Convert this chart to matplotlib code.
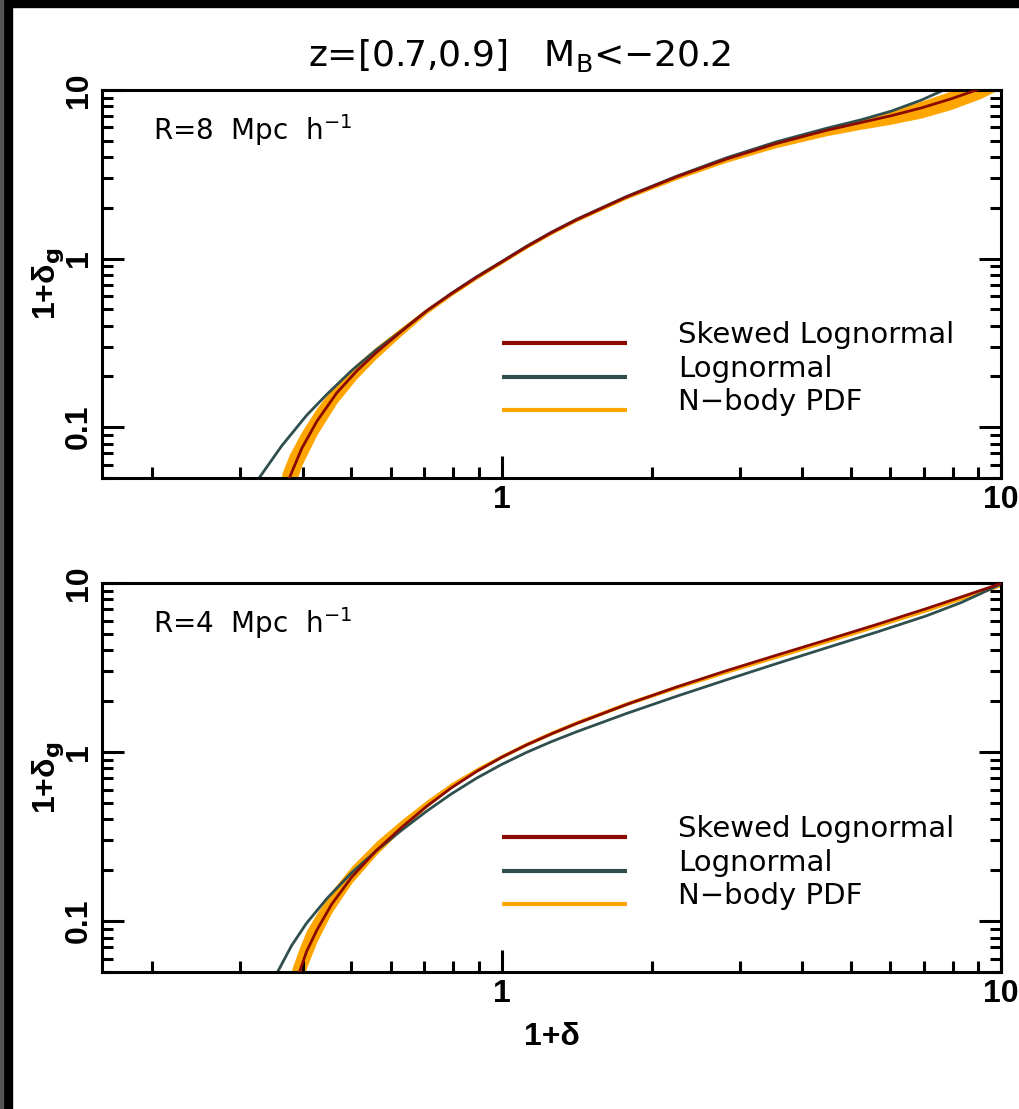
import matplotlib.pyplot as plt
from matplotlib.patches import Rectangle
from matplotlib.ticker import LogLocator, NullFormatter

# values: x = 1+delta, y = 1+delta_g
# R = 8 Mpc/h
sk8_x = [0.376, 0.398, 0.427, 0.468, 0.513, 0.562, 0.631, 0.708, 0.794, 0.891, 1.0, 1.122,
         1.259, 1.413, 1.778, 2.239, 2.818, 3.548, 4.467, 5.248, 6.026, 6.918, 7.943, 9.12]
sk8_y = [0.05, 0.0748, 0.1086, 0.160, 0.2158, 0.278, 0.3715, 0.4898, 0.6194, 0.7745, 0.9528, 1.175,
         1.426, 1.698, 2.317, 3.048, 3.890, 4.808, 5.754, 6.412, 7.031, 7.816, 8.851, 10.21]
ln8_x = [0.327, 0.363, 0.407, 0.447, 0.501, 0.562, 0.631, 0.708, 0.794, 0.891, 1.0, 1.122,
         1.259, 1.413, 1.778, 2.239, 2.818, 3.548, 4.467, 5.248, 6.026, 6.918, 7.762]
ln8_y = [0.05, 0.0776, 0.1175, 0.1567, 0.2168, 0.2884, 0.3733, 0.4898, 0.6237, 0.7798, 0.9594, 1.183,
         1.435, 1.710, 2.333, 3.076, 3.954, 4.920, 5.916, 6.653, 7.482, 8.690, 10.12]
nb8_x = [0.363, 0.376, 0.398, 0.427, 0.468, 0.513, 0.562, 0.631, 0.708, 0.794, 0.891, 1.0, 1.122,
         1.259, 1.413, 1.778, 2.239, 2.818, 3.548, 4.467, 5.248, 6.026, 6.918, 7.943, 9.12, 10.0]
nb8_lo = [0.0254, 0.0362, 0.0594, 0.0904, 0.1393, 0.1945, 0.2564, 0.3508, 0.4710, 0.6012, 0.7534,
          0.9290, 1.146, 1.390, 1.656, 2.254, 2.938, 3.724, 4.550, 5.346, 5.848, 6.266, 6.808,
          7.656, 8.913, 10.23]
nb8_hi = [0.053, 0.069, 0.0942, 0.1306, 0.1837, 0.2393, 0.3013, 0.3936, 0.5093, 0.6383, 0.7962,
          0.9772, 1.205, 1.462, 1.742, 2.382, 3.105, 3.954, 4.898, 5.916, 6.714, 7.534, 8.570,
          9.863, 11.75, 12.59]

# R = 4 Mpc/h
sk4_x = [0.394, 0.407, 0.427, 0.457, 0.501, 0.562, 0.631, 0.708, 0.794, 0.891, 1.0, 1.122,
         1.259, 1.413, 1.778, 2.239, 2.818, 3.548, 4.467, 5.623, 7.079, 8.318, 10.0]
sk4_y = [0.05, 0.0661, 0.0888, 0.1259, 0.182, 0.2624, 0.3589, 0.4775, 0.6152, 0.7674, 0.9311, 1.102,
         1.282, 1.476, 1.910, 2.424, 3.027, 3.737, 4.597, 5.669, 7.047, 8.260, 9.931]
ln4_x = [0.356, 0.380, 0.407, 0.447, 0.501, 0.562, 0.631, 0.708, 0.794, 0.891, 1.0, 1.122,
         1.259, 1.413, 1.778, 2.239, 2.818, 3.548, 4.467, 5.623, 7.079, 8.318, 9.12, 10.0]
ln4_y = [0.05, 0.0718, 0.0973, 0.1361, 0.1934, 0.2618, 0.3451, 0.4471, 0.5662, 0.7006, 0.8443, 0.9954,
         1.153, 1.318, 1.690, 2.136, 2.673, 3.331, 4.130, 5.111, 6.383, 7.656, 8.670, 9.863]
nb4_x = [0.380, 0.394, 0.407, 0.427, 0.457, 0.501, 0.562, 0.631, 0.708, 0.794, 0.891, 1.0, 1.122,
         1.259, 1.413, 1.778, 2.239, 2.818, 3.548, 4.467, 5.623, 7.079, 8.318, 10.0]
nb4_lo = [0.026, 0.0384, 0.0531, 0.0756, 0.1122, 0.1679, 0.2477, 0.3467, 0.4699, 0.6138, 0.7621,
          0.9162, 1.084, 1.262, 1.452, 1.879, 2.358, 2.917, 3.585, 4.411, 5.438, 6.745, 7.925, 9.528]
nb4_hi = [0.0519, 0.0698, 0.0882, 0.1118, 0.1514, 0.2113, 0.2979, 0.3981, 0.520, 0.6607, 0.8091,
          0.9683, 1.146, 1.334, 1.535, 1.986, 2.492, 3.083, 3.789, 4.660, 5.748, 7.161, 8.414, 10.12]

labels = ['Skewed Lognormal', 'Lognormal', 'N\u2212body PDF']
colors = ['#8b0a00', '#2f4f4f', '#ffa500']
xtick_vals = [1, 10]
xtick_text = ['1', '10']
ytick_vals = [0.1, 1, 10]
ytick_text = ['0.1', '1', '10']
title = 'z=[0.7,0.9]   M$_\\mathregular{B}$<\u221220.2'

BOLDFONT = ['Liberation Sans', 'DejaVu Sans']


def draw_panel(ax, sk, ln, nb, radius, xlabel):
    ax.fill_between(nb[0], nb[1], nb[2], color=colors[2], lw=0, zorder=1)
    ax.plot(ln[0], ln[1], color=colors[1], lw=2.0, zorder=2)
    ax.plot(sk[0], sk[1], color=colors[0], lw=2.0, zorder=3)

    ax.set_xscale('log')
    ax.set_yscale('log')
    ax.set_xlim(10 ** -0.8, 10)
    ax.set_ylim(0.05, 10)

    for s in ax.spines.values():
        s.set_linewidth(2.2)

    ax.xaxis.set_minor_locator(LogLocator(base=10, subs=range(2, 10)))
    ax.yaxis.set_minor_locator(LogLocator(base=10, subs=range(2, 10)))
    ax.xaxis.set_minor_formatter(NullFormatter())
    ax.yaxis.set_minor_formatter(NullFormatter())
    ax.set_xticks(xtick_vals, labels=xtick_text)
    ax.set_yticks(ytick_vals, labels=ytick_text)

    ax.tick_params(which='both', direction='in', width=2.2, top=False,
                   right=True, labelright=False)
    ax.tick_params(which='major', length=16)
    ax.tick_params(which='minor', length=8)
    ax.tick_params(axis='x', pad=5)
    ax.tick_params(axis='y', pad=6, labelrotation=90)
    for t in ax.get_xticklabels() + ax.get_yticklabels():
        t.set_fontfamily(BOLDFONT)
        t.set_fontweight('bold')
        t.set_fontsize(23)
    for t in ax.get_yticklabels():
        t.set_va('center')

    ax.set_ylabel('1+\u03b4$_\\mathbf{g}$', fontsize=23, fontweight='bold',
                  family=BOLDFONT)
    ax.yaxis.set_label_coords(-0.04, 0.5)
    if xlabel:
        ax.set_xlabel('1+\u03b4', fontsize=23, fontweight='bold', va='top',
                      family=BOLDFONT)
        ax.xaxis.set_label_coords(0.5, -0.128)

    ax.text(0.057, 0.871, radius, transform=ax.transAxes, fontsize=20,
            va='baseline')

    # legend drawn by hand, IDL style
    for yy, col, lab in zip([0.348, 0.26, 0.175], colors, labels):
        ax.plot([0.445, 0.584], [yy, yy], transform=ax.transAxes,
                color=col, lw=3, solid_capstyle='butt')
        ax.text(0.641, yy, lab, transform=ax.transAxes, fontsize=21,
                va='baseline')


fig = plt.figure(figsize=(10.19, 11.09), dpi=100)
fig.patches.append(Rectangle((0, 1 - 7 / 1109), 1, 7 / 1109,
                             transform=fig.transFigure, color='black'))
fig.patches.append(Rectangle((0, 0), 12 / 1019, 1,
                             transform=fig.transFigure, color='black'))
fig.patches.append(Rectangle((0, 0), 3 / 1019, 1,
                             transform=fig.transFigure, color='#555555'))

ax_top = fig.add_axes([0.1001, 0.569, 0.8822, 0.3499])
ax_bot = fig.add_axes([0.1001, 0.1235, 0.8822, 0.3508])

draw_panel(ax_top, (sk8_x, sk8_y), (ln8_x, ln8_y), (nb8_x, nb8_lo, nb8_hi),
           'R=8  Mpc  h$^{\\mathregular{-1}}$', False)
draw_panel(ax_bot, (sk4_x, sk4_y), (ln4_x, ln4_y), (nb4_x, nb4_lo, nb4_hi),
           'R=4  Mpc  h$^{\\mathregular{-1}}$', True)

fig.text(519 / 1019, 1 - 55 / 1109, title, fontsize=26, ha='center',
         va='center')

plt.savefig('out.png', dpi=100)
